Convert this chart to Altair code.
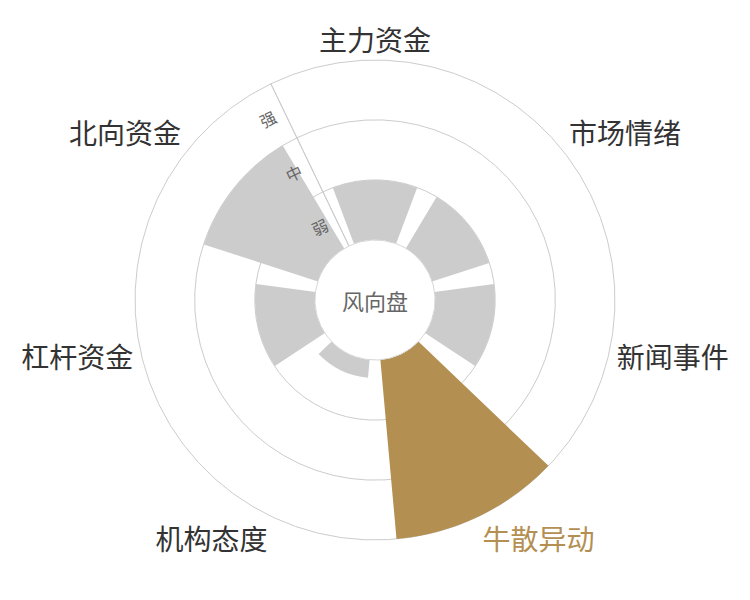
import math
import altair as alt
import pandas as pd

# ---- data ----
categories = ["主力资金", "市场情绪", "新闻事件", "牛散异动", "机构态度", "杠杆资金", "北向资金"]
values = [1.0, 1.0, 1.0, 3.0, 0.3, 1.0, 2.0]
highlight = "牛散异动"
level_names = ["弱", "中", "强"]
level_mid = [0.5, 1.5, 2.5]
grid_levels = [1, 2, 3]
center_text = "风向盘"

# ---- style ----
GOLD = "#b48f52"
GRAY = "#cccccc"
GRID = "#cccccc"
FONT = "Noto Sans CJK SC"

n = len(categories)
half = 0.4
lo, hi = -0.5, n - 0.5
theta_scale = alt.Scale(domain=[lo, hi], range=[-math.pi / n, 2 * math.pi - math.pi / n])
radius_scale = alt.Scale(type="linear", domain=[0, max(grid_levels)], range=[60, 240])

cat_df = pd.DataFrame({"cat": categories, "value": values, "idx": list(range(n))})
grid_df = pd.DataFrame({"level": grid_levels})
lvl_df = pd.DataFrame({"name": level_names, "lv": level_mid})

grid = (
    alt.Chart(grid_df)
    .transform_calculate(t0=f"{lo}", t1=f"{hi}")
    .mark_arc(filled=False, stroke=GRID, strokeWidth=1)
    .encode(
        theta=alt.Theta("t0:Q", scale=theta_scale),
        theta2="t1:Q",
        radius=alt.Radius("level:Q", scale=radius_scale),
        radius2=alt.value(0),
    )
)

bars = (
    alt.Chart(cat_df)
    .transform_calculate(t0=f"datum.idx - {half}", t1=f"datum.idx + {half}")
    .mark_arc()
    .encode(
        theta=alt.Theta("t0:Q", scale=theta_scale),
        theta2="t1:Q",
        radius=alt.Radius("value:Q", scale=radius_scale),
        radius2=alt.datum(0),
        color=alt.condition(alt.datum.cat == highlight, alt.value(GOLD), alt.value(GRAY)),
    )
)

axis_line = (
    alt.Chart(pd.DataFrame({"r0": [0], "r1": [max(grid_levels)]}))
    .transform_calculate(t0=f"{lo}")
    .mark_arc(filled=False, stroke=GRID, strokeWidth=1)
    .encode(
        theta=alt.Theta("t0:Q", scale=theta_scale),
        theta2="t0:Q",
        radius=alt.Radius("r1:Q", scale=radius_scale),
        radius2="r0:Q",
    )
)

inner = (
    alt.Chart(pd.DataFrame({"level": [0]}))
    .transform_calculate(t0=f"{lo}", t1=f"{hi}")
    .mark_arc(fill="white", stroke="#d6d6d6", strokeWidth=1)
    .encode(
        theta=alt.Theta("t0:Q", scale=theta_scale),
        theta2="t1:Q",
        radius=alt.Radius("level:Q", scale=radius_scale),
        radius2=alt.value(0),
    )
)

lvl_labels = (
    alt.Chart(lvl_df)
    .transform_calculate(t=f"{lo}")
    .mark_text(font=FONT, fontSize=16, color="#666666", angle=360 - 180 / n,
               dx=-18, dy=2, align="center", baseline="middle")
    .encode(
        theta=alt.Theta("t:Q", scale=theta_scale),
        radius=alt.Radius("lv:Q", scale=radius_scale),
        text="name:N",
    )
)

groups = {}
for i, c in enumerate(categories):
    a = 2 * math.pi * i / n
    sx, sy = math.sin(a), -math.cos(a)
    align = "center" if abs(sx) < 0.3 else ("left" if sx > 0 else "right")
    base = "middle" if abs(sy) < 0.3 else ("top" if sy > 0 else "bottom")
    groups.setdefault((align, base), []).append(c)

label_layers = []
for (align, base), cats in groups.items():
    label_layers.append(
        alt.Chart(cat_df)
        .transform_filter(alt.FieldOneOfPredicate(field="cat", oneOf=cats))
        .mark_text(font=FONT, fontSize=28, radius=248, align=align, baseline=base, dy=5)
        .encode(
            theta=alt.Theta("idx:Q", scale=theta_scale),
            text="cat:N",
            color=alt.condition(alt.datum.cat == highlight, alt.value(GOLD), alt.value("#333333")),
        )
    )

center = (
    alt.Chart(pd.DataFrame({"t": [center_text]}))
    .mark_text(font=FONT, fontSize=22, color="#666666", dy=3)
    .encode(text="t:N")
)

chart = (
    alt.layer(grid, bars, axis_line, inner, lvl_labels, *label_layers, center)
    .properties(width=734, height=584, padding=0, autosize="none")
    .configure_view(strokeWidth=0)
)

chart.save("out.html", embed_options={"renderer": "svg", "actions": False})
